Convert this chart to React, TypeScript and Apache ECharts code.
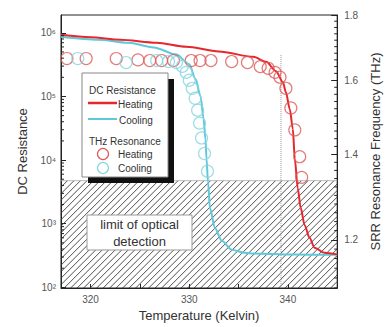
import React, { useEffect, useRef } from 'react';
import * as echarts from 'echarts';

// ---- axis ranges ----
const tempMin = 317;
const tempMax = 345;
const resMinLog = 1.99;
const resMaxLog = 6.28;
const freqMin = 1.1;
const freqMax = 1.8;

// ---- tick labels ----
const tempTicks = [320, 325, 330, 335, 340];
const tempLabels = [320, 330, 340];
const resDecades = [2, 3, 4, 5, 6];
const freqMajor = [1.2, 1.4, 1.6, 1.8];

// ---- annotations ----
const detectionLimitTHz = 1.335;
const markerTemp = 339.3;
const markerTopTHz = 1.675;

// ---- DC resistance (Ohm) ----
const dcHeatingT = [317, 320, 323, 326.7, 329.7, 333, 336.5, 337.8, 338.8, 339.5, 339.8, 340.2, 340.5, 340.7, 341.0, 341.3, 341.7, 342.2, 342.7, 343.7, 345];
const dcHeatingR = [9.3e5, 8.5e5, 7.8e5, 7.0e5, 6.05e5, 5.1e5, 4.2e5, 3.5e5, 2.5e5, 1.67e5, 1.16e5, 6.3e4, 3.1e4, 1.05e4, 3.6e3, 1.76e3, 950, 600, 420, 350, 330];
const dcCoolingT = [317, 320.8, 323.8, 326.4, 328.7, 330.0, 330.65, 331.15, 331.45, 331.65, 331.75, 331.9, 332.1, 332.6, 333.3, 334.3, 335.6, 336.5, 340.5, 345];
const dcCoolingR = [8.7e5, 7.8e5, 7.0e5, 5.9e5, 4.55e5, 3.2e5, 1.86e5, 1.0e5, 4.5e4, 2.1e4, 1.05e4, 4.6e3, 1.76e3, 860, 540, 390, 350, 340, 327, 325];

// ---- THz resonance (THz) ----
const thzHeatingT = [317.6, 319.55, 322.6, 324.8, 326.0, 327.2, 328.4, 330.2, 331.1, 332.2, 334.3, 335.9, 337.2, 338.0, 338.7, 339.2, 339.8, 340.3, 340.7, 341.2, 341.4];
const thzHeatingF = [1.664, 1.664, 1.664, 1.660, 1.658, 1.658, 1.658, 1.658, 1.658, 1.658, 1.655, 1.652, 1.640, 1.635, 1.623, 1.609, 1.577, 1.522, 1.463, 1.394, 1.343];
const thzCoolingT = [318.7, 323.6, 326.7, 327.9, 328.7, 329.3, 329.7, 330.0, 330.3, 330.6, 330.85, 331.05, 331.25, 331.55, 331.85];
const thzCoolingF = [1.664, 1.652, 1.658, 1.655, 1.652, 1.641, 1.623, 1.600, 1.577, 1.549, 1.516, 1.481, 1.442, 1.402, 1.358];

const RED = '#e8262d';
const CYAN = '#5ec9da';
const RED_C = '#dd5a58';
const CYAN_C = '#86d4e0';
const FONT = '"Liberation Sans", Arial, sans-serif';
const SUP: Record<string, string> = { '2': '\u00b2', '3': '\u00b3', '4': '\u2074', '5': '\u2075', '6': '\u2076' };

const lg = Math.log10;

const leftMinor: number[] = [];
for (let n = 1; n <= 6; n++) {
  for (let k = 2; k <= 9; k++) {
    const v = lg(k * Math.pow(10, n));
    if (v > resMinLog && v < resMaxLog) leftMinor.push(v);
  }
}
const rightMinor: number[] = [];
for (let i = 55; i <= 90; i++) {
  if (i % 10 !== 0) rightMinor.push(lg(i * 0.02));
}

export default function App() {
  const ref = useRef<HTMLDivElement>(null);
  useEffect(() => {
    if (!ref.current) return;
    const chart = echarts.init(ref.current, undefined, { renderer: 'svg' });
    const option: any = {
      animation: false,
      backgroundColor: '#fff',
      textStyle: { fontFamily: FONT },
      grid: { left: 61, right: 44, top: 15, bottom: 37, show: true, borderColor: '#222', borderWidth: 1, backgroundColor: 'transparent' },
      xAxis: {
        type: 'value', min: tempMin, max: tempMax,
        name: 'Temperature (Kelvin)', nameLocation: 'middle', nameGap: 21,
        nameTextStyle: { fontSize: 13, color: '#333', fontFamily: FONT },
        axisLine: { show: true, lineStyle: { color: '#222' } },
        axisTick: { show: true, inside: true, length: 4, customValues: tempTicks, lineStyle: { color: '#222' } },
        axisLabel: { customValues: tempLabels, fontSize: 10, color: '#555', margin: 6, fontFamily: FONT },
        splitLine: { show: false },
      },
      yAxis: [
        {
          type: 'value', position: 'left', min: resMinLog, max: resMaxLog,
          name: 'DC Resistance', nameLocation: 'middle', nameGap: 32, nameRotate: 90,
          nameTextStyle: { fontSize: 13, color: '#333', fontFamily: FONT },
          axisLine: { show: true, lineStyle: { color: '#222' } },
          axisTick: { show: true, inside: true, length: 5, customValues: resDecades, lineStyle: { color: '#222' } },
          axisLabel: {
            customValues: resDecades, fontSize: 10, color: '#555', margin: 5, fontFamily: FONT,
            formatter: (v: number) => '10' + SUP[String(Math.round(v))],
          },
          splitLine: { show: false },
        },
        {
          type: 'value', position: 'right', min: lg(freqMin), max: lg(freqMax),
          name: 'SRR Resonance Frequency (THz)', nameLocation: 'middle', nameGap: 24, nameRotate: 90,
          nameTextStyle: { fontSize: 13, color: '#333', fontFamily: FONT },
          axisLine: { show: true, lineStyle: { color: '#222' } },
          axisTick: { show: true, inside: true, length: 6, customValues: freqMajor.map(lg), lineStyle: { color: '#222' } },
          axisLabel: {
            customValues: freqMajor.map(lg), fontSize: 10, color: '#555', margin: 7, fontFamily: FONT,
            formatter: (v: number) => Math.pow(10, v).toFixed(1),
          },
          splitLine: { show: false },
        },
      ],
      series: [
        {
          type: 'custom', name: 'hatch', xAxisIndex: 0, yAxisIndex: 1, z: 1, silent: true,
          encode: { x: [0, 1], y: [2, 3] },
          data: [[tempMin, tempMax, lg(freqMin), lg(detectionLimitTHz)]],
          renderItem: (params: any, api: any) => {
            const tl = api.coord([api.value(0), api.value(3)]);
            const br = api.coord([api.value(1), api.value(2)]);
            const x0 = tl[0], y0 = tl[1], x1 = br[0], y1 = br[1];
            const h = y1 - y0;
            const step = 6.5;
            const children: any[] = [];
            for (let a = x0 - h; a < x1; a += step) {
              const xs = Math.max(a, x0);
              const xe = Math.min(a + h, x1);
              if (xe <= xs) continue;
              children.push({
                type: 'line',
                shape: { x1: xs, y1: y1 - (xs - a), x2: xe, y2: y1 - (xe - a) },
                style: { stroke: '#3a3a3a', lineWidth: 0.9 },
              });
            }
            children.push({ type: 'line', shape: { x1: x0, y1: y0, x2: x1, y2: y0 }, style: { stroke: '#aaa', lineWidth: 0.8 } });
            return { type: 'group', children };
          },
        },
        {
          type: 'line', name: 'marker', xAxisIndex: 0, yAxisIndex: 1, z: 2, silent: true,
          showSymbol: false, symbol: 'none',
          data: [[markerTemp, lg(markerTopTHz)], [markerTemp, lg(freqMin)]],
          lineStyle: { type: 'dotted', color: '#999', width: 1 },
        },
        {
          type: 'line', name: 'DC Heating', xAxisIndex: 0, yAxisIndex: 0, z: 4,
          showSymbol: false, symbol: 'none', smooth: 0.3, smoothMonotone: 'x',
          data: dcHeatingT.map((t, i) => [t, lg(dcHeatingR[i])]),
          lineStyle: { color: RED, width: 2 },
        },
        {
          type: 'line', name: 'DC Cooling', xAxisIndex: 0, yAxisIndex: 0, z: 3,
          showSymbol: false, symbol: 'none', smooth: 0.3, smoothMonotone: 'x',
          data: dcCoolingT.map((t, i) => [t, lg(dcCoolingR[i])]),
          lineStyle: { color: CYAN, width: 2 },
        },
        {
          type: 'scatter', name: 'THz Heating', xAxisIndex: 0, yAxisIndex: 1, z: 5,
          symbol: 'circle', symbolSize: 12,
          data: thzHeatingT.map((t, i) => [t, lg(thzHeatingF[i])]),
          itemStyle: { color: 'rgba(0,0,0,0)', borderColor: RED_C, borderWidth: 1.2 },
        },
        {
          type: 'scatter', name: 'THz Cooling', xAxisIndex: 0, yAxisIndex: 1, z: 5,
          symbol: 'circle', symbolSize: 12,
          data: thzCoolingT.map((t, i) => [t, lg(thzCoolingF[i])]),
          itemStyle: { color: 'rgba(0,0,0,0)', borderColor: CYAN_C, borderWidth: 1.2 },
        },
        {
          type: 'custom', name: 'leftMinor', xAxisIndex: 0, yAxisIndex: 0, z: 6, silent: true,
          data: [[tempMin, resMinLog]],
          renderItem: (params: any, api: any) => ({
            type: 'group',
            children: leftMinor.map((v) => {
              const p = api.coord([tempMin, v]);
              return { type: 'line', shape: { x1: p[0], y1: p[1], x2: p[0] + 3, y2: p[1] }, style: { stroke: '#222', lineWidth: 1 } };
            }),
          }),
        },
        {
          type: 'custom', name: 'rightMinor', xAxisIndex: 0, yAxisIndex: 1, z: 6, silent: true,
          data: [[tempMax, lg(freqMin)]],
          renderItem: (params: any, api: any) => ({
            type: 'group',
            children: rightMinor.map((v) => {
              const p = api.coord([tempMax, v]);
              return { type: 'line', shape: { x1: p[0], y1: p[1], x2: p[0] - 3, y2: p[1] }, style: { stroke: '#222', lineWidth: 1 } };
            }),
          }),
        },
      ],
      graphic: [
        // detection-limit label
        { type: 'rect', z: 100, shape: { x: 87, y: 215, width: 105, height: 35 }, style: { fill: '#fff', stroke: '#999', lineWidth: 1 } },
        { type: 'text', z: 101, x: 139.5, y: 224, style: { text: 'limit of optical', fontSize: 13, fontFamily: FONT, fill: '#333', align: 'center', verticalAlign: 'middle' } },
        { type: 'text', z: 101, x: 139.5, y: 241, style: { text: 'detection', fontSize: 13, fontFamily: FONT, fill: '#333', align: 'center', verticalAlign: 'middle' } },
        // legend box
        { type: 'rect', z: 100, shape: { x: 88, y: 79, width: 86, height: 104 }, style: { fill: '#111' } },
        { type: 'rect', z: 101, shape: { x: 82, y: 73, width: 86, height: 104 }, style: { fill: '#fff', stroke: '#888', lineWidth: 1 } },
        { type: 'text', z: 102, x: 89, y: 90, style: { text: 'DC Resistance', fontSize: 10, fontFamily: FONT, fill: '#333', verticalAlign: 'middle' } },
        { type: 'line', z: 102, shape: { x1: 88, y1: 103, x2: 117, y2: 103 }, style: { stroke: RED, lineWidth: 2.5 } },
        { type: 'text', z: 102, x: 118, y: 104, style: { text: 'Heating', fontSize: 10, fontFamily: FONT, fill: '#333', verticalAlign: 'middle' } },
        { type: 'line', z: 102, shape: { x1: 88, y1: 119, x2: 117, y2: 119 }, style: { stroke: CYAN, lineWidth: 2 } },
        { type: 'text', z: 102, x: 119, y: 120, style: { text: 'Cooling', fontSize: 10, fontFamily: FONT, fill: '#333', verticalAlign: 'middle' } },
        { type: 'text', z: 102, x: 89, y: 141, style: { text: 'THz Resonance', fontSize: 10, fontFamily: FONT, fill: '#333', verticalAlign: 'middle' } },
        { type: 'circle', z: 102, shape: { cx: 103, cy: 154, r: 5.5 }, style: { fill: 'none', stroke: RED_C, lineWidth: 1.2 } },
        { type: 'text', z: 102, x: 118, y: 154, style: { text: 'Heating', fontSize: 10, fontFamily: FONT, fill: '#333', verticalAlign: 'middle' } },
        { type: 'circle', z: 102, shape: { cx: 103, cy: 168, r: 5.5 }, style: { fill: 'none', stroke: CYAN_C, lineWidth: 1.2 } },
        { type: 'text', z: 102, x: 118, y: 168, style: { text: 'Cooling', fontSize: 10, fontFamily: FONT, fill: '#333', verticalAlign: 'middle' } },
      ],
    };
    chart.setOption(option);
    return () => chart.dispose();
  }, []);
  return <div ref={ref} style={{ position: 'absolute', left: 0, top: 0, width: 390, height: 327 }} />;
}
